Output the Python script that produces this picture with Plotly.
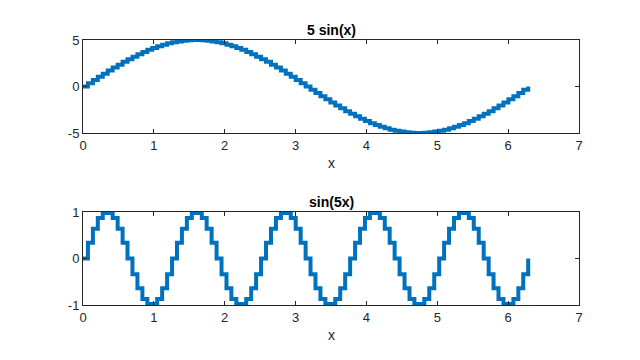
import plotly.graph_objects as go

# sample positions (0 .. 2*pi, 91 samples)
x_vals = [0.000, 0.070, 0.140, 0.209, 0.279, 0.349, 0.419, 0.489, 0.559, 0.628,
          0.698, 0.768, 0.838, 0.908, 0.977, 1.047, 1.117, 1.187, 1.257, 1.326,
          1.396, 1.466, 1.536, 1.606, 1.676, 1.745, 1.815, 1.885, 1.955, 2.025,
          2.094, 2.164, 2.234, 2.304, 2.374, 2.443, 2.513, 2.583, 2.653, 2.723,
          2.793, 2.862, 2.932, 3.002, 3.072, 3.142, 3.211, 3.281, 3.351, 3.421,
          3.491, 3.560, 3.630, 3.700, 3.770, 3.840, 3.910, 3.979, 4.049, 4.119,
          4.189, 4.259, 4.328, 4.398, 4.468, 4.538, 4.608, 4.677, 4.747, 4.817,
          4.887, 4.957, 5.027, 5.096, 5.166, 5.236, 5.306, 5.376, 5.445, 5.515,
          5.585, 5.655, 5.725, 5.794, 5.864, 5.934, 6.004, 6.074, 6.144, 6.213,
          6.283]

# 5 sin(x)
y_top = [0.00, 0.35, 0.70, 1.04, 1.38, 1.71, 2.03, 2.35, 2.65, 2.94,
         3.21, 3.47, 3.72, 3.94, 4.15, 4.33, 4.49, 4.64, 4.76, 4.85,
         4.92, 4.97, 5.00, 5.00, 4.97, 4.92, 4.85, 4.76, 4.64, 4.49,
         4.33, 4.15, 3.94, 3.72, 3.47, 3.21, 2.94, 2.65, 2.35, 2.03,
         1.71, 1.38, 1.04, 0.70, 0.35,
         0.00, -0.35, -0.70, -1.04, -1.38, -1.71, -2.03, -2.35, -2.65, -2.94,
         -3.21, -3.47, -3.72, -3.94, -4.15, -4.33, -4.49, -4.64, -4.76, -4.85,
         -4.92, -4.97, -5.00, -5.00, -4.97, -4.92, -4.85, -4.76, -4.64, -4.49,
         -4.33, -4.15, -3.94, -3.72, -3.47, -3.21, -2.94, -2.65, -2.35, -2.03,
         -1.71, -1.38, -1.04, -0.70, -0.35,
         0.00]

# sin(5x)
y_bot = [0.00, 0.34, 0.64, 0.87, 0.98, 0.98, 0.87, 0.64, 0.34,
         0.00, -0.34, -0.64, -0.87, -0.98, -0.98, -0.87, -0.64, -0.34,
         0.00, 0.34, 0.64, 0.87, 0.98, 0.98, 0.87, 0.64, 0.34,
         0.00, -0.34, -0.64, -0.87, -0.98, -0.98, -0.87, -0.64, -0.34,
         0.00, 0.34, 0.64, 0.87, 0.98, 0.98, 0.87, 0.64, 0.34,
         0.00, -0.34, -0.64, -0.87, -0.98, -0.98, -0.87, -0.64, -0.34,
         0.00, 0.34, 0.64, 0.87, 0.98, 0.98, 0.87, 0.64, 0.34,
         0.00, -0.34, -0.64, -0.87, -0.98, -0.98, -0.87, -0.64, -0.34,
         0.00, 0.34, 0.64, 0.87, 0.98, 0.98, 0.87, 0.64, 0.34,
         0.00, -0.34, -0.64, -0.87, -0.98, -0.98, -0.87, -0.64, -0.34,
         0.00]

titles = ["5 sin(x)", "sin(5x)"]
xlabel = "x"
x_ticks = [0, 1, 2, 3, 4, 5, 6, 7]
y_top_ticks = [-5, 0, 5]
y_bot_ticks = [-1, 0, 1]

LINE = "#0072BD"
AX = "#262626"
FONT = "Liberation Sans, Arial, Helvetica, sans-serif"

W, H = 640, 360

fig = go.Figure()
fig.add_trace(go.Scatter(x=x_vals, y=y_top, mode="lines", line=dict(shape="hv", color=LINE, width=4),
                         xaxis="x", yaxis="y", showlegend=False))
fig.add_trace(go.Scatter(x=x_vals, y=y_bot, mode="lines", line=dict(shape="hv", color=LINE, width=4),
                         xaxis="x2", yaxis="y2", showlegend=False))

xdom = [83 / W, 579 / W]
top_dom = [1 - 133 / H, 1 - 40 / H]
bot_dom = [1 - 305 / H, 1 - 212 / H]

def xax(anchor):
    return dict(domain=xdom, anchor=anchor, range=[0, 7], tickvals=x_ticks,
                ticktext=[str(t) for t in x_ticks], showgrid=False, zeroline=False,
                showline=True, linecolor=AX, linewidth=1, mirror="ticks", ticks="inside",
                ticklen=4, tickcolor=AX, tickfont=dict(family=FONT, size=13, color=AX))

def yax(anchor, dom, rng, tv):
    return dict(domain=dom, anchor=anchor, range=rng, tickvals=tv,
                ticktext=[str(t) for t in tv], showgrid=False, zeroline=False,
                showline=True, linecolor=AX, linewidth=1, mirror="ticks", ticks="inside",
                ticklen=4, tickcolor=AX, tickfont=dict(family=FONT, size=13, color=AX))

ann = [
    (titles[0], 331, 30, True),
    (titles[1], 331, 202, True),
    (xlabel, 331, 163, False),
    (xlabel, 331, 335, False),
]

fig.update_layout(
    width=W, height=H, margin=dict(l=0, r=0, t=0, b=0, autoexpand=False),
    paper_bgcolor="white", plot_bgcolor="white",
    xaxis=xax("y"), yaxis=yax("x", top_dom, [-5, 5], y_top_ticks),
    xaxis2=xax("y2"), yaxis2=yax("x2", bot_dom, [-1, 1], y_bot_ticks),
    annotations=[
        dict(text=("<b>%s</b>" % t) if bold else t, x=px / W, y=1 - py / H,
             xref="paper", yref="paper", xanchor="center", yanchor="middle", showarrow=False,
             font=dict(family=FONT, size=14, color="black" if bold else AX))
        for t, px, py, bold in ann
    ],
)

fig.write_html("out.html", config={"responsive": False, "displayModeBar": False},
               post_script="document.body.style.margin='0';document.body.style.overflow='hidden';")
